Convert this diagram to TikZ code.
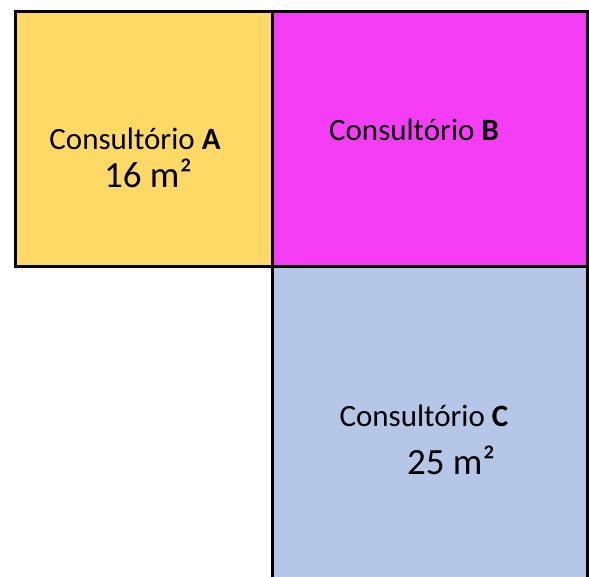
\documentclass[tikz,border=0pt]{standalone}
\usepackage{fontspec}
\setmainfont{Carlito}
\usepackage{xcolor}
\definecolor{roomA}{HTML}{FFD966}
\definecolor{roomB}{HTML}{F53DF5}
\definecolor{roomC}{HTML}{B4C7E7}
\tikzset{
    room/.style={line width=3pt,draw=black,line join=miter},
    roomname/.style={font=\fontsize{31}{36}\selectfont,inner sep=0pt},
    roomarea/.style={font=\fontsize{37}{42}\selectfont,inner sep=0pt}
}

\begin{document}
\begin{tikzpicture}[line cap=rect,x=1pt,y=1pt]
                \useasboundingbox (0,0) rectangle (589,577);
                % corners of the plan
                \coordinate (nw) at (15,565);
                \coordinate (nm) at (272,565);
                \coordinate (ne) at (587,565);
                \coordinate (wm) at (15,310);
                \coordinate (mm) at (272,310);
                \coordinate (em) at (587,310);
                \coordinate (sm) at (272,-10);
                \coordinate (se) at (587,-10);
                % rooms
                \fill [roomA] (nw) rectangle (mm);
                \fill [roomB] (nm) rectangle (em);
                \fill [roomC] (mm) rectangle (se);
                \draw [room] (nw) rectangle (mm);
                \draw [room] (nm) rectangle (em);
                \draw [room] (mm) -- (sm);
                \draw [room] (em) -- (se);
                % labels
                \node [roomname] (nameA) at (135,438) {Consultório \textbf{A}};
                \node [roomarea] (areaA) at (148,404) {16 m²};
                \node [roomname] (nameB) at (414,447) {Consultório \textbf{B}};
                \node [roomname] (nameC) at (424,161) {Consultório \textbf{C}};
                \node [roomarea] (areaC) at (451,117) {25 m²};
            \end{tikzpicture}
\end{document}
